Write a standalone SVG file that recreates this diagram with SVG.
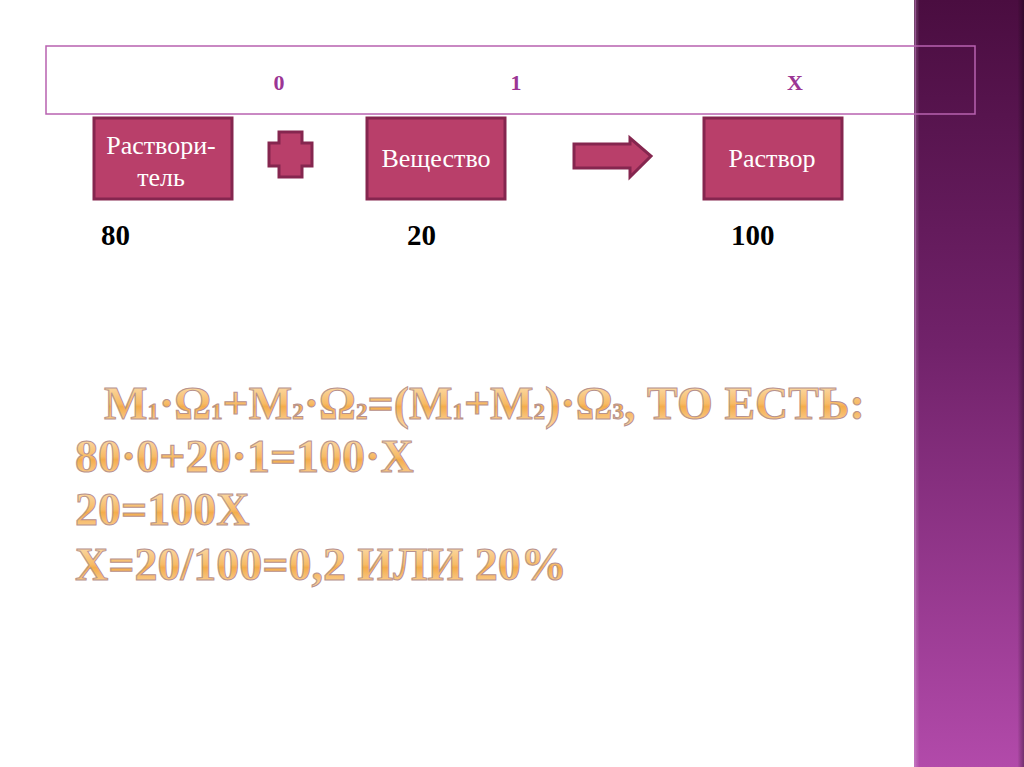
<svg xmlns="http://www.w3.org/2000/svg" width="1024" height="767" viewBox="0 0 1024 767">
<defs>
<linearGradient id="band" x1="0" y1="0" x2="0" y2="1">
<stop offset="0" stop-color="#4a0d40"/>
<stop offset="0.45" stop-color="#71226a"/>
<stop offset="1" stop-color="#b24aaa"/>
</linearGradient>
<linearGradient id="bandEdge" x1="0" y1="0" x2="1" y2="0">
<stop offset="0" stop-color="#ffffff" stop-opacity="0.25"/>
<stop offset="0.05" stop-color="#ffffff" stop-opacity="0"/>
<stop offset="0.94" stop-color="#000000" stop-opacity="0"/>
<stop offset="1" stop-color="#000000" stop-opacity="0.35"/>
</linearGradient>
<linearGradient id="gold" x1="0" y1="0" x2="0" y2="1">
<stop offset="0" stop-color="#fde6c0"/>
<stop offset="0.5" stop-color="#f7bb66"/>
<stop offset="0.56" stop-color="#f4ad4c"/>
<stop offset="1" stop-color="#fddcad"/>
</linearGradient>
<style>
.serif{font-family:'Liberation Serif','DejaVu Serif','Noto Serif',serif}
.box{fill:#b93f6a;stroke:#85264f;stroke-width:3}
.lbl{font-size:26px;fill:#ffffff;text-anchor:middle}
.num{font-size:29px;font-weight:bold;fill:#000000}
.top{font-size:22px;font-weight:bold;fill:#9b3594}
.eq{font-size:46px;font-weight:bold;fill:url(#gold);stroke:#b8928e;stroke-width:1}
.sub{font-size:23px}
</style>
</defs>
<rect x="0" y="0" width="1024" height="767" fill="#ffffff"/>
<g id="band-bg">
<rect x="914" y="0" width="110" height="767" fill="url(#band)"/>
<rect x="914" y="0" width="110" height="767" fill="url(#bandEdge)"/>
<line x1="915.5" y1="0" x2="915.5" y2="767" stroke="#c070c0" stroke-opacity="0.5" stroke-width="1"/>
</g>
<g id="header">
<rect x="46" y="46" width="929" height="68" fill="none" stroke="#b862b0" stroke-width="1.5"/>
<text class="serif top" x="279" y="90" text-anchor="middle">0</text>
<text class="serif top" x="516" y="90" text-anchor="middle">1</text>
<text class="serif top" x="795" y="90" text-anchor="middle">X</text>
</g>
<g id="node-solvent">
<rect class="box" x="94" y="118" width="138" height="81"/>
<text class="serif lbl" x="161" y="154">Раствори-</text>
<text class="serif lbl" x="161" y="186">тель</text>
</g>
<g id="node-substance">
<rect class="box" x="367" y="118" width="138" height="81"/>
<text class="serif lbl" x="436" y="167">Вещество</text>
</g>
<g id="node-solution">
<rect class="box" x="704" y="118" width="138" height="81"/>
<text class="serif lbl" x="772" y="167">Раствор</text>
</g>
<g id="connectors">
<path class="box" d="M279,132 H302 V143 H312 V166 H302 V177 H279 V166 H269 V143 H279 Z"/>
<path class="box" d="M574,144 H630 V138 L651,156 L630,177 V168 H574 Z"/>
</g>
<g id="values">
<text class="serif num" x="101" y="245">80</text>
<text class="serif num" x="407" y="245">20</text>
<text class="serif num" x="731" y="245">100</text>
</g>
<g id="equations">
<text class="serif eq" x="104" y="419">M<tspan class="sub">1</tspan>·Ω<tspan class="sub">1</tspan>+M<tspan class="sub">2</tspan>·Ω<tspan class="sub">2</tspan>=(M<tspan class="sub">1</tspan>+M<tspan class="sub">2</tspan>)·Ω<tspan class="sub">3</tspan>, ТО ЕСТЬ:</text>
<text class="serif eq" x="75" y="472">80·0+20·1=100·X</text>
<text class="serif eq" x="75" y="525">20=100X</text>
<text class="serif eq" x="75" y="580">X=20/100=0,2 ИЛИ 20%</text>
</g>
</svg>
